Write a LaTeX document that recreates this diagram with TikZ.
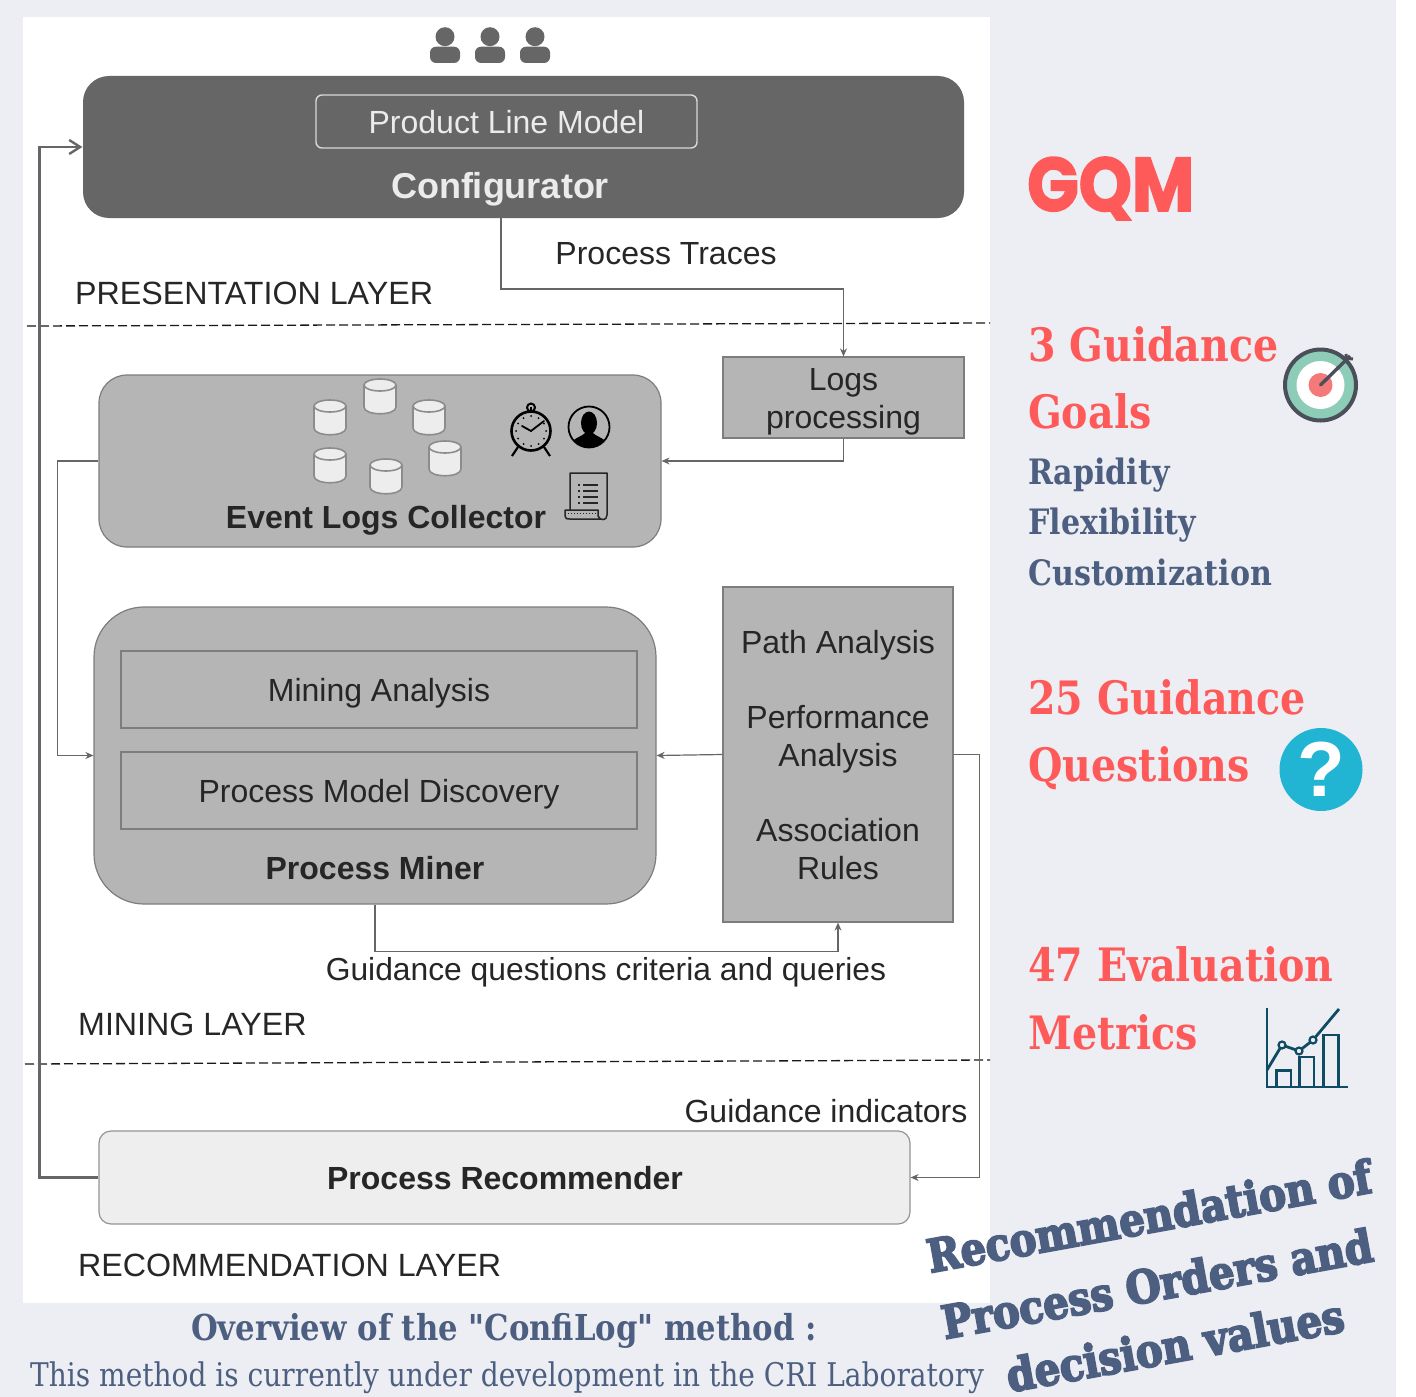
\documentclass[tikz,border=0pt]{standalone}
\usepackage{fontspec}
\setmainfont{Liberation Sans}
\newfontfamily\slabfont[FakeStretch=0.86]{DejaVu Serif}
\newfontfamily\slabheavy[FakeStretch=0.88,FakeBold=4]{DejaVu Serif Bold}
\newfontfamily\titlefont[FakeBold=2,FakeStretch=0.89]{Poppins Bold}
\usetikzlibrary{arrows.meta}
\definecolor{pagegrey}{HTML}{EDEEF3}
\definecolor{boxgrey}{HTML}{B5B5B5}
\definecolor{darkgrey}{HTML}{666666}
\definecolor{linegrey}{HTML}{666666}
\definecolor{coral}{HTML}{FF5A5A}
\definecolor{slate}{HTML}{4D5F80}
\definecolor{chartblue}{HTML}{0F4C64}
\definecolor{targetdark}{HTML}{4A4F5A}
\definecolor{targetgreen}{HTML}{8DCDB7}
\definecolor{targetred}{HTML}{F47A7A}
\definecolor{questionblue}{HTML}{22B5D3}
\tikzset{
    flow/.style={draw=linegrey, line width=1.2pt, -{Stealth[length=8pt,width=7pt]}},
    layerline/.style={draw=black!90, line width=1.3pt, dash pattern=on 9pt off 4pt},
    greybox/.style={draw=linegrey!85, fill=boxgrey, line width=1.2pt, inner sep=0pt},
    diagramtext/.style={text=black!85, font=\fontsize{32}{38}\selectfont, align=center, inner sep=0pt},
    lowered/.style={text height=32pt, text depth=8pt},
    boldtext/.style={diagramtext, font=\fontsize{32}{38}\selectfont\bfseries},
    layertext/.style={diagramtext, anchor=base west, font=\fontsize{32.2}{38}\selectfont},
    headline/.style={text=coral, anchor=base west, inner sep=0pt, font=\fontsize{46}{56}\selectfont\slabfont\bfseries},
    goaltext/.style={text=slate, anchor=base west, inner sep=0pt, font=\fontsize{35}{40}\selectfont\slabfont\bfseries},
    slanted/.style={text=slate, rotate=10.3, anchor=base, inner sep=0pt, font=\fontsize{45.5}{50}\selectfont\slabheavy},
    dbcyl/.pic={
        \draw[fill=black!7, draw=black!45, line width=1.6pt] (-16,-11) -- (-16,11) .. controls (-16,20) and (16,20) .. (16,11) -- (16,-11);
        \draw[fill=black!7, draw=black!45, line width=1.6pt] (0,-11) ellipse (16 and 6);
    },
    userhead/.pic={
        \fill[darkgrey] (0,-9.3) circle (9.5);
        \fill[darkgrey, rounded corners=6pt] (-15,17) rectangle (15,0.7);
    }
}
\begin{document}
\begin{tikzpicture}[x=1pt,y=-1pt]
    \useasboundingbox (0,0) rectangle (1416,1397);
    \fill[white] (0,0) rectangle (1416,1397);
    \fill[pagegrey] (0,0) rectangle (1396,1397);
    \fill[white] (23,17) rectangle (990,1303);

    % users
    \foreach \ux in {445,490,535} {
        \pic at (\ux,46) {userhead};
    }

    % presentation layer
    \node[greybox, fill=darkgrey, draw=none, rounded corners=26pt, minimum width=881pt, minimum height=142pt] (configbox) at (523.5,147) {};
    \node[draw=black!15, rounded corners=6pt, line width=1.4pt, minimum width=381pt, minimum height=53pt, inner sep=0pt, text=black!8, font=\fontsize{32}{38}\selectfont, text height=32pt, text depth=8pt] (productline) at (506.5,121.5) {Product Line Model};
    \node[boldtext, text=black!8, font=\fontsize{36}{38}\selectfont\bfseries] (configtitle) at (500,189) {Configurator};
    \node[diagramtext] (tracestext) at (666,254) {Process Traces};
    \node[layertext] (presentationtext) at (75,304) {PRESENTATION LAYER};
    \coordinate (tracesout) at (501,218);
    \coordinate (dashAleft) at (27,326);
    \coordinate (dashAright) at (990,323);
    \draw[layerline] (dashAleft) -- (dashAright);

    % mining layer
    \node[greybox, minimum width=241pt, minimum height=81pt] (logs) at (843.5,397.5) {};
    \node[diagramtext] (logstext) at (843.5,402) {Logs\\processing};
    \node[greybox, rounded corners=28pt, minimum width=562pt, minimum height=172pt] (eventbox) at (380,461) {};
    \node[boldtext] (eventtitle) at (386,520) {Event Logs Collector};
    \node[greybox, rounded corners=50pt, minimum width=562pt, minimum height=297pt] (miner) at (375,755.5) {};
    \node[greybox, minimum width=516pt, minimum height=77pt, diagramtext, lowered] (mininganalysis) at (379,689.5) {Mining Analysis};
    \node[greybox, minimum width=516pt, minimum height=77pt, diagramtext, lowered] (discovery) at (379,790.5) {Process Model Discovery};
    \node[boldtext] (minertitle) at (375,868) {Process Miner};
    \node[greybox, minimum width=230pt, minimum height=335pt] (pathbox) at (838,754.5) {};
    \node[diagramtext] (pathtext) at (838,755.5) {Path Analysis\\[37pt]Performance\\Analysis\\[37pt]Association\\Rules};
    \node[diagramtext, font=\fontsize{31.8}{38}\selectfont] (criteriatext) at (606,972) {Guidance questions criteria and queries};
    \node[layertext] (miningtext) at (78,1035) {MINING LAYER};
    \coordinate (dashBleft) at (25,1064);
    \coordinate (dashBright) at (990,1060);
    \draw[layerline] (dashBleft) -- (dashBright);

    % database icons
    \foreach \cx/\cy in {330/417,380/396,429/417,330/465,386/476,445/458} {
        \pic at (\cx,\cy) {dbcyl};
    }

    % clock
    \draw[black, line width=2.6pt] (531,431) circle (19.5);
    \draw[black, line width=2pt] (531,407.5) circle (4);
    \draw[black, line width=2pt] (531,407) -- (531,411);
    \draw[black, line width=2.2pt] (518,447) -- (512,456) (544,447) -- (550,456);
    \draw[black, line width=1.8pt, line cap=round] (522,426) -- (531,431) -- (544,421);
    \foreach \ca in {0,30,...,330} {
        \fill[black] (531,431) ++(\ca:15) circle (1);
    }

    % user in a circle
    \draw[black, line width=1.8pt] (589,427) circle (20.5);
    \begin{scope}
        \clip (589,427) circle (20.5);
        \fill[black] (589,423) ellipse (8 and 11.5);
        \fill[black] (568,450) .. controls (570,438) and (580,438) .. (585,433) -- (593,433) .. controls (598,438) and (608,438) .. (610,450) -- cycle;
    \end{scope}

    % scroll
    \draw[black!85, line width=1.5pt, line join=round] (570,510) -- (570,473) -- (607,473) -- (607,515) .. controls (607,521) and (600,521) .. (598,516) -- (598,510) -- (565,510) -- (565,516) .. controls (565,519) and (567,519) .. (570,519) -- (602,519);
    \foreach \ly in {485,491,497,503} {
        \draw[black!85, line width=1.2pt] (578,\ly) -- (580,\ly) (583,\ly) -- (598,\ly);
    }
    \draw[black!85, line width=1pt, dotted] (568,513.5) -- (596,513.5);

    % recommendation layer
    \node[diagramtext] (indicatorstext) at (826,1111) {Guidance indicators};
    \node[greybox, fill=black!6.5, draw=linegrey!70, rounded corners=12pt, minimum width=811pt, minimum height=93pt] (recommender) at (504.5,1177.5) {};
    \node[boldtext] (recommendertitle) at (505,1178) {Process Recommender};
    \node[layertext] (recommendationtext) at (78,1276) {RECOMMENDATION LAYER};

    % connectors
    \draw[flow] (tracesout) -- ++(0,71) -| (logs.north);
    \draw[flow] (logs.south) |- (eventbox.east);
    \draw[flow] (eventbox.west) -- ++(-41,0) |- (miner.west);
    \draw[flow] (pathbox.west) -- (miner.east);
    \draw[flow] (miner.south) -- ++(0,47) -| (pathbox.south);
    \draw[flow] (pathbox.east) -- ++(26,0) |- (recommender.east);
    \draw[flow, line width=2.4pt, -{Straight Barb[length=11pt,width=14pt]}] (recommender.west) -- ++(-59,0) |- (configbox.west);

    % right column
    \node[text=coral, anchor=base west, inner sep=0pt, font=\fontsize{76}{80}\selectfont\titlefont] (gqmtitle) at (1027,211) {GQM};
    \node[headline] (goalsA) at (1028,361) {3 Guidance};
    \node[headline] (goalsB) at (1028,428) {Goals};
    \node[goaltext] (rapidity) at (1028,484) {Rapidity};
    \node[goaltext] (flexibility) at (1028,534) {Flexibility};
    \node[goaltext] (customization) at (1028,585) {Customization};
    \node[headline] (questionsA) at (1028,714) {25 Guidance};
    \node[headline] (questionsB) at (1028,781) {Questions};
    \node[headline] (metricsA) at (1028,981) {47 Evaluation};
    \node[headline] (metricsB) at (1028,1049) {Metrics};

    % target icon
    \draw[draw=targetdark, line width=4pt, fill=targetgreen] (1320.5,385) circle (35.5);
    \fill[white] (1320.5,385) circle (24);
    \fill[targetred] (1320.5,385) circle (12);
    \draw[targetdark, line width=3.4pt, line cap=round] (1320.5,385) -- (1345,361);
    \draw[targetdark, line width=3.4pt] (1345,361) -- (1350,356);
    \draw[targetdark, line width=3pt] (1346,354) -- (1347,363) (1343,358) -- (1353,359);

    % question icon
    \node[circle, fill=questionblue, minimum size=83pt, inner sep=0pt, text=white, font=\fontsize{78}{80}\selectfont\bfseries] (questionmark) at (1321,769.5) {?};

    % chart icon
    \draw[chartblue, line width=2.8pt] (1267,1008) -- (1267,1087) -- (1348,1087);
    \draw[chartblue, line width=2.8pt] (1276.5,1087) -- (1276.5,1070.5) -- (1291,1070.5) -- (1291,1087);
    \draw[chartblue, line width=2.8pt] (1299.5,1087) -- (1299.5,1057) -- (1314,1057) -- (1314,1087);
    \draw[chartblue, line width=2.8pt] (1323.5,1087) -- (1323.5,1035) -- (1338.5,1035) -- (1338.5,1087);
    \draw[chartblue, line width=2.8pt] (1267,1070) -- (1282,1045) -- (1299,1051) -- (1313,1040) -- (1339,1009);
    \foreach \px/\py in {1282/1045,1299/1051,1313/1040} {
        \draw[chartblue, line width=2.2pt, fill=pagegrey] (\px,\py) circle (3.5);
    }

    % bottom captions
    \node[text=slate, anchor=base, inner sep=0pt, font=\fontsize{35.7}{40}\selectfont\slabfont\bfseries] (overview) at (504,1340) {Overview of the "ConfiLog" method :};
    \node[text=slate, anchor=base west, inner sep=0pt, font=\fontsize{32.6}{38}\selectfont\slabfont] (undertext) at (30,1386) {This method is currently under development in the CRI Laboratory};
    \node[slanted] (recoA) at (1152,1232.5) {Recommendation of};
    \node[slanted] (recoB) at (1160,1300) {Process Orders and};
    \node[slanted] (recoC) at (1178,1361.7) {decision values};
\end{tikzpicture}
\end{document}
